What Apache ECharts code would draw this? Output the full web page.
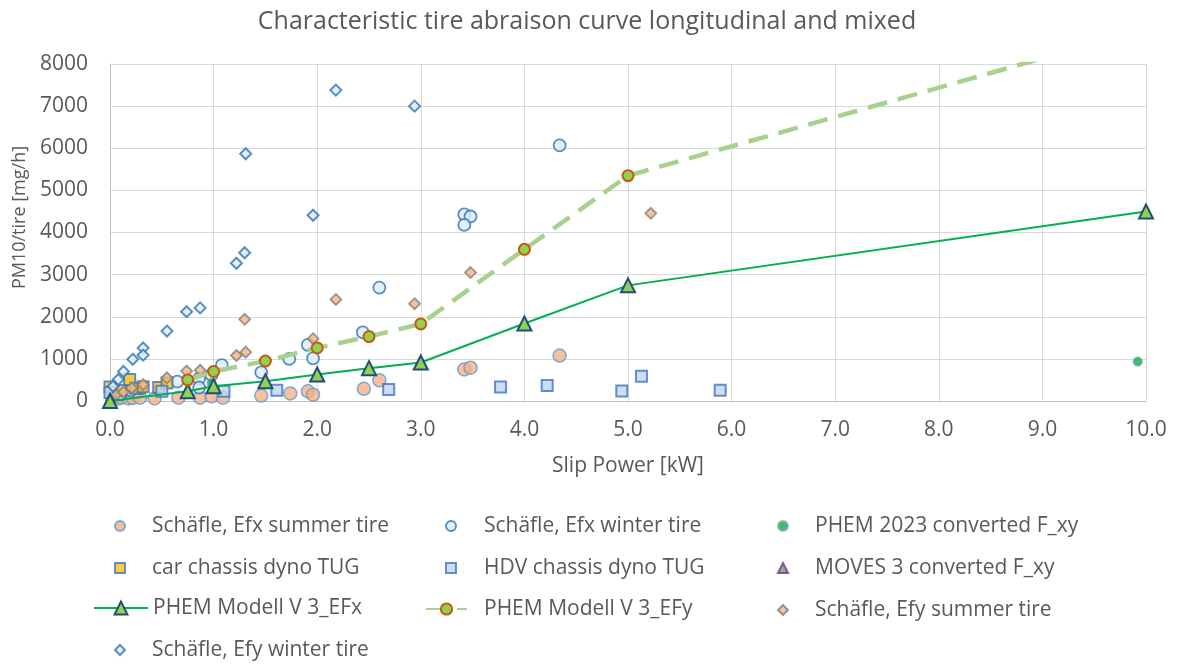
<!DOCTYPE html>
<html>
<head>
<meta charset="utf-8">
<script src="https://cdn.jsdelivr.net/npm/echarts@6/dist/echarts.min.js"></script>
<style>
html,body{margin:0;padding:0;background:#fff;}
#chart{width:1177px;height:664px;}
</style>
</head>
<body>
<div id="chart"></div>
<script>
// ---- data (x = slip power kW, y = PM10/tire mg/h) ----
const efxSummer = [[0.02,30],[0.08,60],[0.11,80],[0.18,60],[0.22,70],[0.29,80],[0.43,60],[0.66,80],[0.87,80],[0.98,110],[1.09,80],[1.46,130],[1.74,180],[1.91,230],[1.96,150],[2.45,290],[2.6,490],[3.42,750],[3.48,790],[4.34,1080]];
const efxWinter = [[0.1,150],[0.2,250],[0.3,300],[0.65,460],[0.86,530],[0.86,320],[0.98,620],[1.08,850],[1.46,680],[1.73,1000],[1.91,1330],[1.96,1010],[2.44,1630],[2.6,2690],[3.42,4430],[3.48,4380],[3.42,4180],[4.34,6070]];
const phem2023 = [[0.98,430],[9.92,935]];
const carDyno = [[0.0,330],[0.1,250],[0.19,510],[0.25,300],[0.32,340],[0.47,320],[0.55,430]];
const hdvDyno = [[0.0,200],[0.5,230],[1.1,230],[1.61,255],[2.69,275],[3.77,335],[4.22,370],[4.94,235],[5.13,590],[5.89,255]];
const moves3 = [[0.01,40],[0.03,110]];
const phemEFx = [[0,0],[0.75,233],[1.0,352],[1.5,470],[2.0,630],[2.5,780],[3.0,915],[4.0,1840],[5.0,2745],[10.0,4500]];
const phemEFy = [[0.75,500],[1.0,700],[1.5,950],[2.0,1260],[2.5,1530],[3.0,1830],[4.0,3600],[5.0,5350],[10.0,8830]];
const efySummer = [[0.06,150],[0.13,210],[0.21,310],[0.32,390],[0.55,550],[0.74,710],[0.87,730],[1.22,1080],[1.31,1160],[1.3,1940],[1.96,1480],[2.18,2410],[2.94,2310],[3.48,3050],[5.22,4455]];
const efyWinter = [[0.03,350],[0.08,510],[0.13,700],[0.22,990],[0.32,1260],[0.32,1090],[0.55,1660],[0.74,2120],[0.87,2210],[1.22,3270],[1.3,3520],[1.31,5870],[1.96,4410],[2.18,7380],[2.94,7000]];

const names = {
  efxSummer: 'Schäfle, Efx summer tire',
  efxWinter: 'Schäfle, Efx winter tire',
  phem2023: 'PHEM 2023 converted F_xy',
  carDyno: 'car chassis dyno TUG',
  hdvDyno: 'HDV chassis dyno TUG',
  moves3: 'MOVES 3 converted F_xy',
  phemEFx: 'PHEM Modell V 3_EFx',
  phemEFy: 'PHEM Modell V 3_EFy',
  efySummer: 'Schäfle, Efy summer tire',
  efyWinter: 'Schäfle, Efy winter tire'
};

const FONT = '"Open Sans", Lato, sans-serif';
const TXT = '#595959';

const chart = echarts.init(document.getElementById('chart'));

function legendItem(name, left, top, w, h, pad) {
  return {
    data: [name], left: left, top: top, itemWidth: w, itemHeight: h,
    padding: 0, selectedMode: false,
    textStyle: {fontFamily: FONT, fontSize: 21, color: TXT, padding: [0,0,0,pad], lineHeight: 24}
  };
}

const rows = [526, 568, 610, 650].map(v => v - 12);

const option = {
  animation: false,
  title: {
    text: 'Characteristic tire abraison curve longitudinal and mixed',
    left: 582, top: 4, textAlign: 'center',
    textStyle: {fontFamily: FONT, fontSize: 25, fontWeight: 'normal', color: TXT}
  },
  grid: {left: 110, right: 31, top: 64, bottom: 263, containLabel: false},
  xAxis: {
    type: 'value', min: 0, max: 10, interval: 1,
    name: 'Slip Power [kW]', nameLocation: 'middle', nameGap: 55,
    nameTextStyle: {fontFamily: FONT, fontSize: 21, color: TXT},
    axisLine: {show: true, lineStyle: {color: '#BFBFBF', width: 1}},
    axisTick: {show: false},
    axisLabel: {fontFamily: FONT, fontSize: 21, color: TXT, margin: 19, formatter: v => v.toFixed(1)},
    splitLine: {show: true, lineStyle: {color: '#D9D9D9', width: 1}}
  },
  yAxis: {
    type: 'value', min: 0, max: 8000, interval: 1000,
    name: 'PM10/tire [mg/h]', nameLocation: 'middle', nameGap: 81, nameRotate: 90,
    nameTextStyle: {fontFamily: FONT, fontSize: 18, color: TXT, padding: [0,0,0,30]},
    axisLine: {show: true, lineStyle: {color: '#BFBFBF', width: 1}},
    axisTick: {show: false},
    axisLabel: {fontFamily: FONT, fontSize: 21, color: TXT, margin: 22, formatter: v => String(v)},
    splitLine: {show: true, lineStyle: {color: '#D9D9D9', width: 1}}
  },
  legend: [
    legendItem(names.efxSummer, 114, rows[0], 10, 10, 22),
    legendItem(names.efxWinter, 445, rows[0], 10, 10, 23),
    legendItem(names.phem2023, 777, rows[0], 10, 10, 22),
    legendItem(names.carDyno, 114, rows[1], 10, 10, 22),
    legendItem(names.hdvDyno, 445, rows[1], 10, 10, 23),
    legendItem(names.moves3, 777, rows[1], 10, 10, 22),
    legendItem(names.phemEFx, 93, rows[2] - 2, 54, 16, 0),
    legendItem(names.phemEFy, 425, rows[2] - 1, 41, 14, 12),
    legendItem(names.efySummer, 777, rows[2], 10, 10, 22),
    legendItem(names.efyWinter, 114, rows[3], 10, 10, 22)
  ],
  series: [
    {name: names.efxSummer, type: 'scatter', data: efxSummer, symbol: 'circle', symbolSize: 13,
     itemStyle: {color: '#F4B183', borderColor: '#5B9BD5', borderWidth: 1.5}},
    {name: names.efxWinter, type: 'scatter', data: efxWinter, symbol: 'circle', symbolSize: 12,
     itemStyle: {color: '#DEEBF7', borderColor: '#2E75B6', borderWidth: 1.8}},
    {name: names.phem2023, type: 'scatter', data: phem2023, symbol: 'circle', symbolSize: 9,
     itemStyle: {color: '#00B050', borderColor: '#A5A5A5', borderWidth: 1.2}},
    {name: names.carDyno, type: 'scatter', data: carDyno, symbol: 'rect', symbolSize: 11,
     itemStyle: {color: '#FFC000', borderColor: '#4472C4', borderWidth: 2}},
    {name: names.hdvDyno, type: 'scatter', data: hdvDyno, symbol: 'rect', symbolSize: 11,
     itemStyle: {color: '#BDD7EE', borderColor: '#4472C4', borderWidth: 2}},
    {name: names.moves3, type: 'scatter', data: moves3, symbol: 'triangle', symbolSize: 9,
     itemStyle: {color: '#70AD47', borderColor: '#7030A0', borderWidth: 0.8}},
    {name: names.phemEFx, type: 'line', data: phemEFx, symbol: 'triangle', symbolSize: 14,
     lineStyle: {color: '#00B050', width: 2},
     itemStyle: {color: '#92D050', borderColor: '#1F4E79', borderWidth: 2}},
    {name: names.phemEFy, type: 'line', data: phemEFy, symbol: 'circle', symbolSize: 11,
     lineStyle: {color: '#A9D18E', width: 4.5, type: [20, 11]},
     itemStyle: {color: '#92D050', borderColor: '#C55A11', borderWidth: 2}},
    {name: names.efySummer, type: 'scatter', data: efySummer, symbol: 'diamond', symbolSize: 11,
     itemStyle: {color: '#F4B183', borderColor: '#7F7F7F', borderWidth: 1.8}},
    {name: names.efyWinter, type: 'scatter', data: efyWinter, symbol: 'diamond', symbolSize: 11,
     itemStyle: {color: '#DEEBF7', borderColor: '#2E75B6', borderWidth: 2}}
  ]
};
chart.setOption(option);
</script>
</body>
</html>
